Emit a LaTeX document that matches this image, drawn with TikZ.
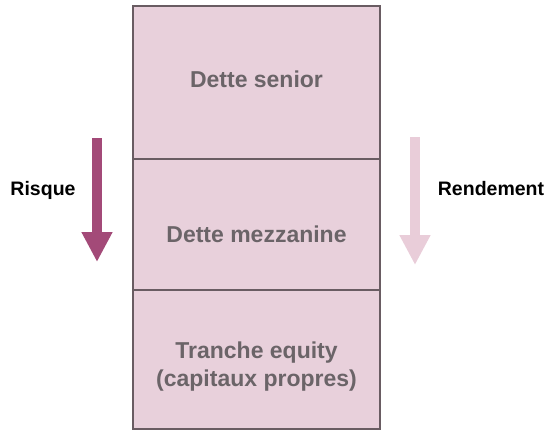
\documentclass[tikz,border=0pt]{standalone}
\usepackage{fontspec}
\setmainfont{Liberation Sans}
\usetikzlibrary{arrows.meta, positioning}
\definecolor{trfill}{RGB}{232,208,219}
\definecolor{trborder}{RGB}{105,92,98}
\definecolor{trtext}{RGB}{107,100,104}
\definecolor{riskplum}{RGB}{163,74,120}
\definecolor{yieldpink}{RGB}{233,205,217}

\tikzset{
  tranche/.style={draw=trborder, fill=trfill, line width=1.2pt,
    minimum width=247pt, inner sep=0pt, outer sep=0pt, anchor=north},
  tranchetext/.style={text=trtext, align=center,
    font=\fontsize{23}{28}\selectfont\bfseries},
  sidelabel/.style={text=black, font=\fontsize{19.5}{23}\selectfont\bfseries},
  blockarrow/.style={line width=10pt, -{Triangle[width=29pt,length=30pt]}}
}

\begin{document}
\begin{tikzpicture}[x=1pt, y=-1pt]
% page
\fill[white] (0,0) rectangle (553,436);
\useasboundingbox (0,0) rectangle (553,436);

% tranches
\node[tranche, minimum height=153pt] (senior) at (256.5,6) {};
\node[tranche, minimum height=131pt, below=0pt of senior] (mezz) {};
\node[tranche, minimum height=139pt, below=0pt of mezz] (equity) {};
\node[tranchetext] (seniorText) at ([yshift=3.5pt]senior.center) {Dette senior};
\node[tranchetext] (mezzText) at ([yshift=-9.5pt]mezz.center) {Dette mezzanine};
\node[tranchetext] (equityText) at ([yshift=-7.5pt]equity.center)
  {Tranche equity\\(capitaux propres)};

% risque
\coordinate (riskTop) at (97,138);
\coordinate (riskTip) at (97,262);
\draw[blockarrow, riskplum] (riskTop) -- (riskTip);
\node[sidelabel] (risque) at (43,190) {Risque};

% rendement
\coordinate (yieldTop) at (415,137);
\coordinate (yieldTip) at (415,265);
\draw[blockarrow, yieldpink] (yieldTop) -- (yieldTip);
\node[sidelabel] (rendement) at (491,189) {Rendement};
\end{tikzpicture}
\end{document}
